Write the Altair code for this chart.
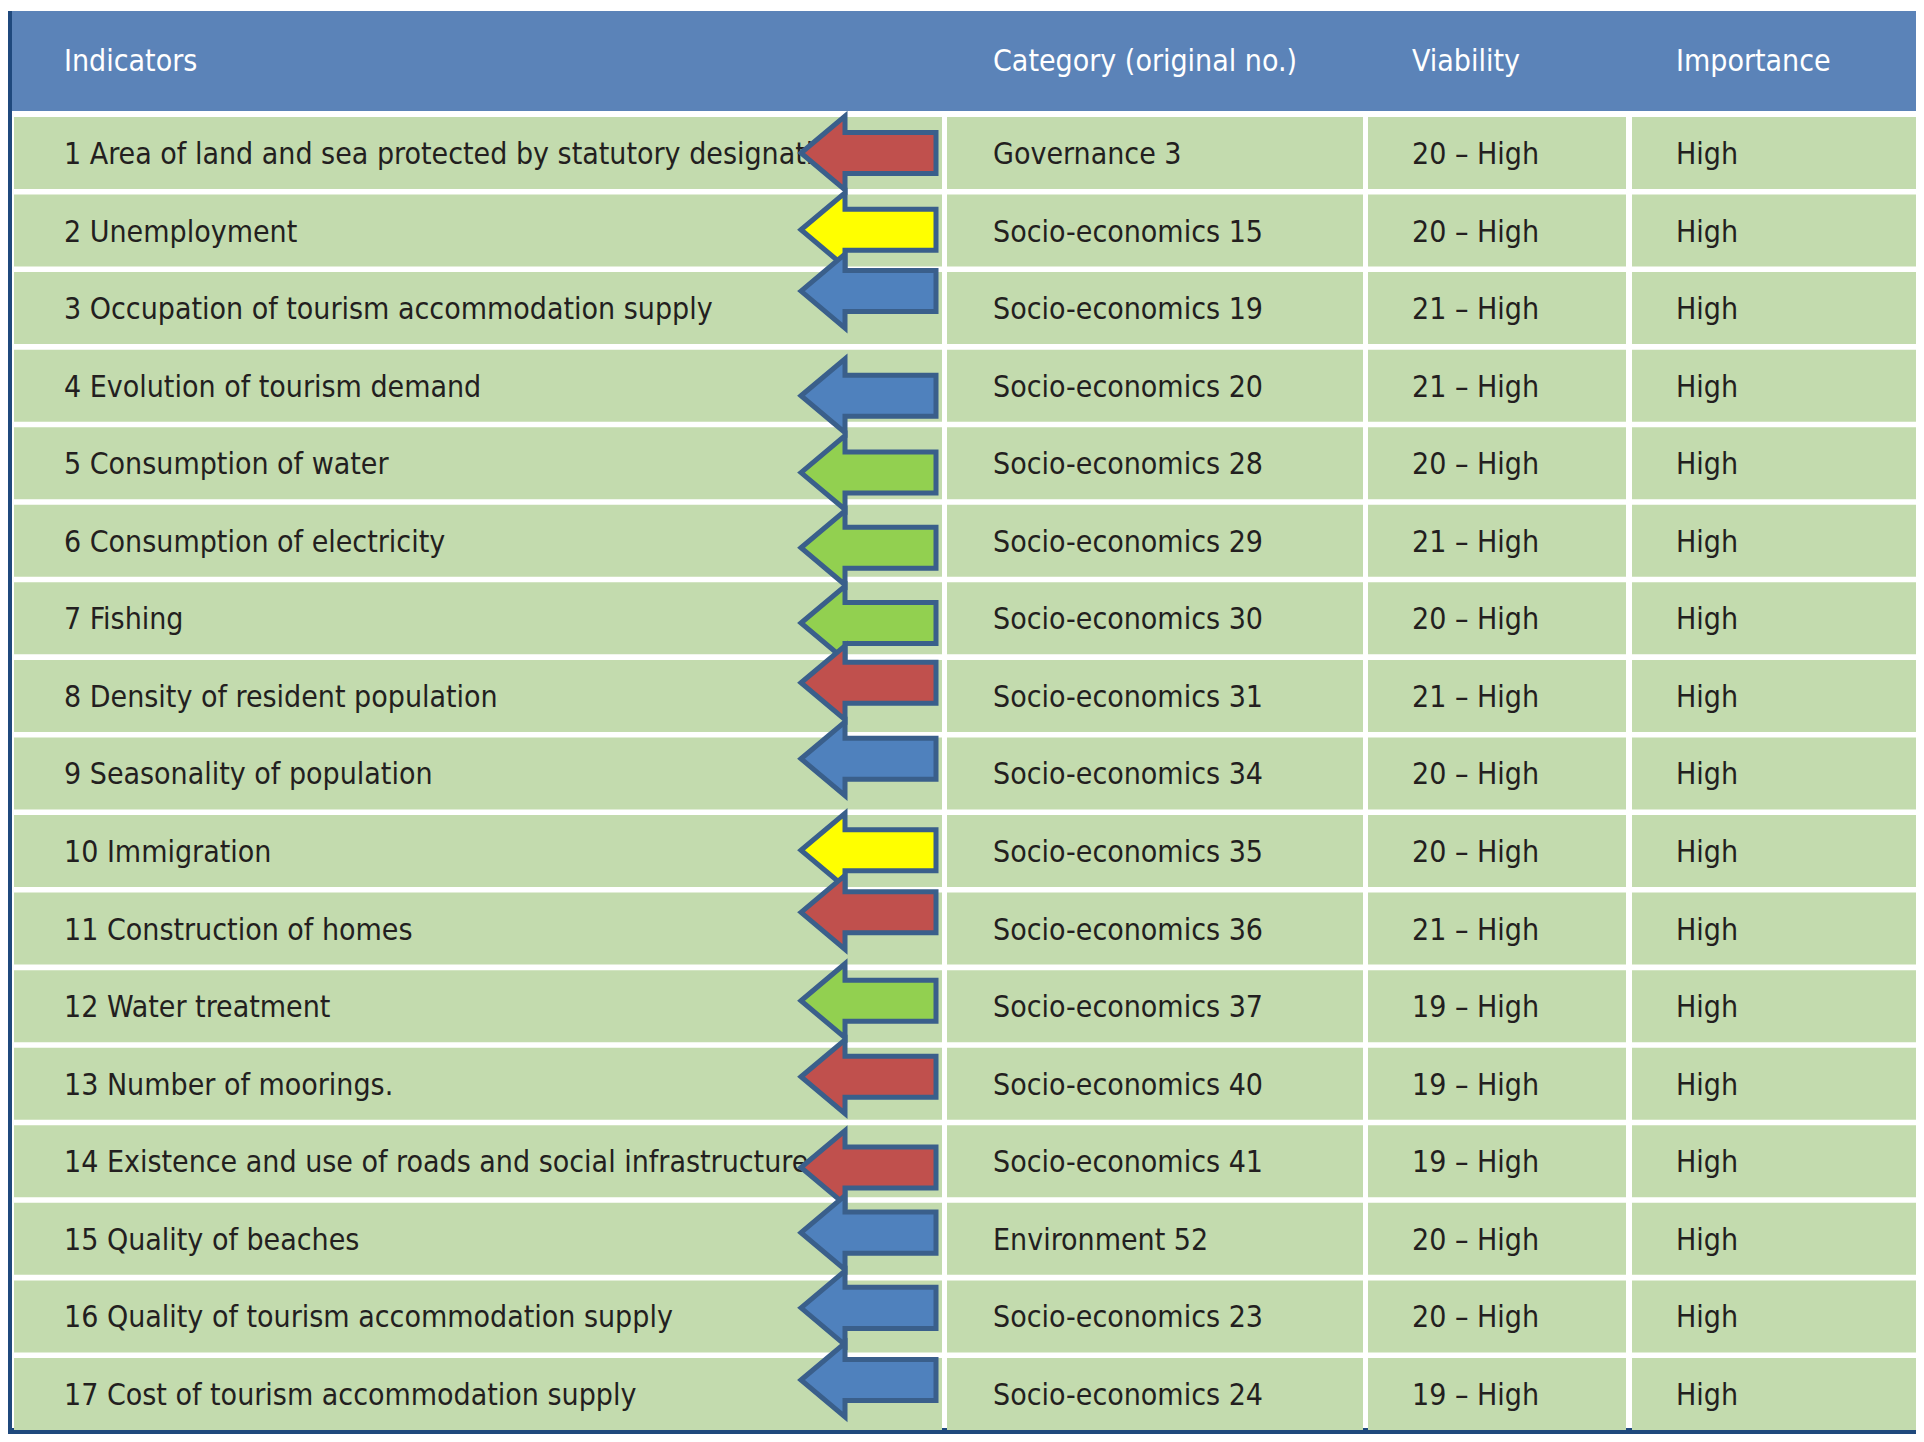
import altair as alt
import pandas as pd

# ---------------- data ----------------
headers = ["Indicators", "Category (original no.)", "Viability", "Importance"]

indicators = [
    "1 Area of land and sea protected by statutory designation",
    "2 Unemployment",
    "3 Occupation of tourism accommodation supply",
    "4 Evolution of tourism demand",
    "5 Consumption of water",
    "6 Consumption of electricity",
    "7 Fishing",
    "8 Density of resident population",
    "9 Seasonality of population",
    "10 Immigration",
    "11 Construction of homes",
    "12 Water treatment",
    "13 Number of moorings.",
    "14 Existence and use of roads and social infrastructures",
    "15 Quality of beaches",
    "16 Quality of tourism accommodation supply",
    "17 Cost of tourism accommodation supply",
]

categories = [
    "Governance 3",
    "Socio-economics 15",
    "Socio-economics 19",
    "Socio-economics 20",
    "Socio-economics 28",
    "Socio-economics 29",
    "Socio-economics 30",
    "Socio-economics 31",
    "Socio-economics 34",
    "Socio-economics 35",
    "Socio-economics 36",
    "Socio-economics 37",
    "Socio-economics 40",
    "Socio-economics 41",
    "Environment 52",
    "Socio-economics 23",
    "Socio-economics 24",
]

viability_score = [20, 20, 21, 21, 20, 21, 20, 21, 20, 20, 21, 19, 19, 19, 20, 20, 19]
viability_level = ["High", "High", "High", "High", "High", "High", "High", "High", "High",
                   "High", "High", "High", "High", "High", "High", "High", "High"]
importance = ["High", "High", "High", "High", "High", "High", "High", "High", "High",
              "High", "High", "High", "High", "High", "High", "High", "High"]

arrow_colour = ["red", "yellow", "blue", "blue", "green", "green", "green", "red", "blue",
                "yellow", "red", "green", "red", "red", "blue", "blue", "blue"]
# vertical placement of each arrow relative to its row centre, in row heights
arrow_shift = [0.0, -0.01, -0.22, 0.13, 0.12, 0.09, 0.06, -0.17, -0.19,
               -0.01, -0.21, -0.07, -0.09, 0.08, -0.08, -0.11, -0.18]

# ---------------- layout (page pixels of the reference) ----------------
X0, X1 = 8, 1916
Y0, Y1 = 8, 1434
W, H = X1 - X0, Y1 - Y0
ROW_TOP, PITCH, ROW_H = 117, 77.56, 72
col_left = [14, 947, 1368, 1632]
col_right = [942, 1363, 1626, 1940]
text_x = [64, 993, 1412, 1676]
ARROW_X = 868.5
ARROW_LEN = 135

FONT = "Liberation Sans Narrow, DejaVu Sans Condensed, Arial Narrow, sans-serif"
FONT_SIZE = 30
GREEN = "#C3DBAE"
HEADER = "#5B83B8"
DARK = "#1F497D"
OUTLINE = "#3A5F8B"

n = len(indicators)
row_centre = [ROW_TOP + i * PITCH + ROW_H / 2 for i in range(n)]

cells = []
texts = []
for i in range(n):
    values = [indicators[i], categories[i],
              f"{viability_score[i]} \u2013 {viability_level[i]}", importance[i]]
    for j in range(4):
        cells.append({"x": col_left[j], "x2": col_right[j],
                      "y": ROW_TOP + i * PITCH, "y2": ROW_TOP + i * PITCH + ROW_H})
        texts.append({"x": text_x[j], "y": row_centre[i] + 2, "label": values[j]})
cells = pd.DataFrame(cells)
texts = pd.DataFrame(texts)

frame = pd.DataFrame([
    {"x": 12, "x2": 1940, "y": 11, "y2": 111, "c": HEADER},
    {"x": 2, "x2": 12, "y": 11, "y2": 1442, "c": DARK},
    {"x": 2, "x2": 1940, "y": 1428, "y2": 1442, "c": DARK},
])

head = pd.DataFrame({"x": text_x, "y": [62] * 4, "label": headers})

arrows = pd.DataFrame({
    "x": [ARROW_X] * n,
    "y": [row_centre[i] + arrow_shift[i] * PITCH for i in range(n)],
    "trend": arrow_colour,
    "order": list(range(n)),
})

xs = alt.Scale(domain=[X0, X1], nice=False, zero=False)
ys = alt.Scale(domain=[Y0, Y1], nice=False, zero=False, reverse=True)

frame_layer = alt.Chart(frame).mark_rect(clip=True).encode(
    x=alt.X("x:Q", scale=xs, axis=None), x2="x2:Q",
    y=alt.Y("y:Q", scale=ys, axis=None), y2="y2:Q",
    color=alt.Color("c:N", scale=None, legend=None),
)

cell_layer = alt.Chart(cells).mark_rect(clip=True, color=GREEN).encode(
    x=alt.X("x:Q", scale=xs, axis=None), x2="x2:Q",
    y=alt.Y("y:Q", scale=ys, axis=None), y2="y2:Q",
)

head_layer = alt.Chart(head).mark_text(
    align="left", baseline="middle", font=FONT, fontSize=FONT_SIZE, color="white"
).encode(
    x=alt.X("x:Q", scale=xs, axis=None),
    y=alt.Y("y:Q", scale=ys, axis=None),
    text="label:N",
)

text_layer = alt.Chart(texts).mark_text(
    align="left", baseline="middle", font=FONT, fontSize=FONT_SIZE, color="#231F20"
).encode(
    x=alt.X("x:Q", scale=xs, axis=None),
    y=alt.Y("y:Q", scale=ys, axis=None),
    text="label:N",
)

arrow_path = ("M-1,0L-0.348,-0.548L-0.348,-0.304L1,-0.304L1,0.304"
              "L-0.348,0.304L-0.348,0.548Z")
arrow_layer = alt.Chart(arrows).mark_point(
    shape=arrow_path, filled=True, size=ARROW_LEN ** 2, opacity=1,
    stroke=OUTLINE, strokeWidth=5, strokeOpacity=1, fillOpacity=1,
).encode(
    x=alt.X("x:Q", scale=xs, axis=None),
    y=alt.Y("y:Q", scale=ys, axis=None),
    fill=alt.Fill("trend:N", scale=alt.Scale(
        domain=["red", "yellow", "blue", "green"],
        range=["#C0504D", "#FFFF00", "#4F81BD", "#92D050"]), legend=None),
    order="order:Q",
)

chart = alt.layer(frame_layer, cell_layer, head_layer, text_layer, arrow_layer).properties(
    width=W, height=H, padding=0, autosize=alt.AutoSizeParams(type="none"),
    background="white",
).configure_view(stroke=None)

chart.save("out.html", embed_options={"renderer": "svg", "actions": False})
